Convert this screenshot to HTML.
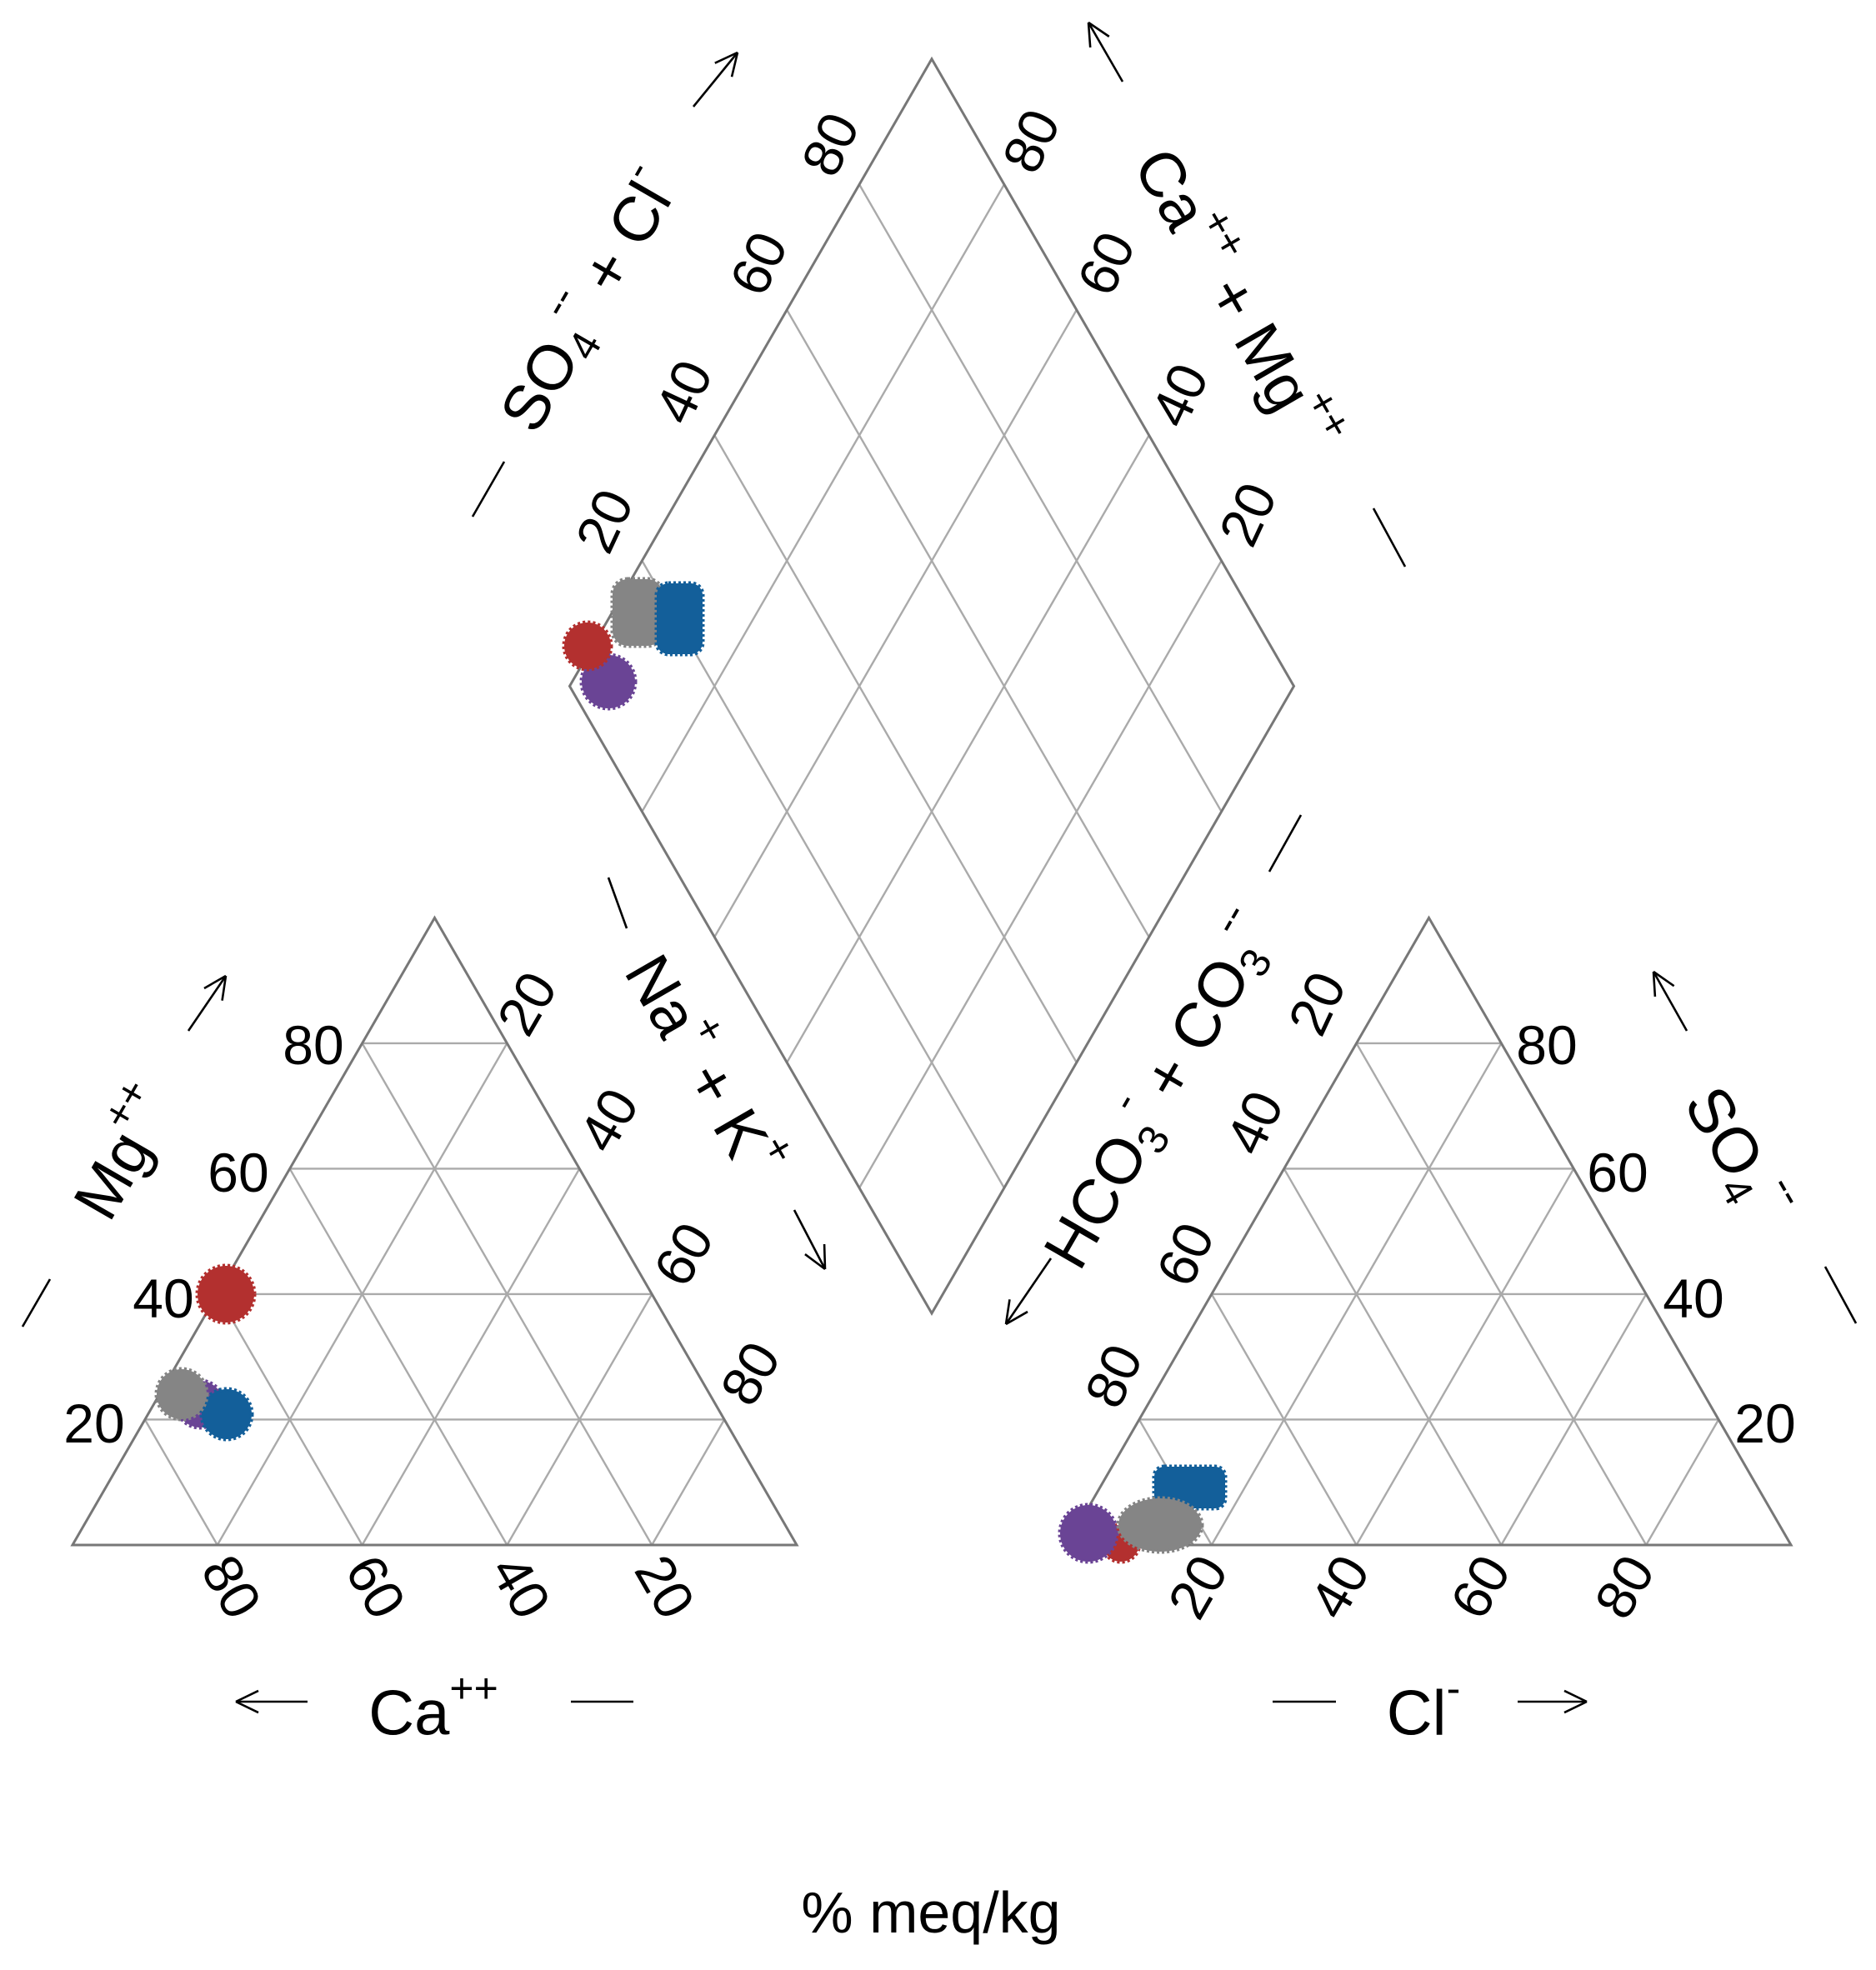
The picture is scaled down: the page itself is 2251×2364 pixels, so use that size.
<!DOCTYPE html>
<html><head><meta charset="utf-8"><style>
html,body{margin:0;padding:0;background:#fff}
svg{display:block}
text{font-family:"Liberation Sans",sans-serif;fill:#000}
</style></head><body>
<svg id="s" width="2251" height="2364" viewBox="0 0 2251 2364" xmlns="http://www.w3.org/2000/svg">
<g id="grid" stroke="#aaaaaa" stroke-width="2.4" fill="none"></g>
<g fill="none" stroke="#777" stroke-width="3">
<polygon points="87,1854 956,1854 521.5,1101.4"/>
<polygon points="1280,1854 2149,1854 1714.5,1101.4"/>
<polygon points="1118,1576 683.5,823.4 1118,70.8 1552.5,823.4"/>
</g>
<g stroke-width="5" stroke-dasharray="3 3">
<circle cx="730" cy="818" r="32" fill="#6a4495" stroke="#6a4495"/>
<circle cx="705" cy="775" r="28" fill="#b3302f" stroke="#b3302f"/>
<rect x="735" y="695" width="60" height="80" rx="18" fill="#858585" stroke="#858585"/>
<rect x="788" y="700" width="55" height="85" rx="14" fill="#135f9a" stroke="#135f9a"/>
<circle cx="271" cy="1553" r="34" fill="#b3302f" stroke="#b3302f"/>
<circle cx="240" cy="1685" r="28" fill="#6a4495" stroke="#6a4495"/>
<circle cx="272" cy="1697" r="30" fill="#135f9a" stroke="#135f9a"/>
<circle cx="218" cy="1673" r="30" fill="#858585" stroke="#858585"/>
<rect x="1385" y="1760" width="85" height="50" rx="12" fill="#135f9a" stroke="#135f9a"/>
<circle cx="1345" cy="1852" r="22" fill="#b3302f" stroke="#b3302f"/>
<circle cx="1306" cy="1840" r="34" fill="#6a4495" stroke="#6a4495"/>
<ellipse cx="1392" cy="1830" rx="50" ry="32" fill="#858585" stroke="#858585"/>
</g>
<g stroke="#000" stroke-width="2.6" fill="none">
<line x1="226" y1="1237" x2="271" y2="1171"/>
<line x1="832" y1="128" x2="885" y2="63"/>
<line x1="1347" y1="98" x2="1306" y2="27"/>
<line x1="953" y1="1452" x2="990" y2="1523"/>
<line x1="1261" y1="1510" x2="1207" y2="1589"/>
<line x1="2024" y1="1237" x2="1984" y2="1166"/>
<line x1="369" y1="2042" x2="283" y2="2042"/>
<line x1="1821" y1="2042" x2="1904" y2="2042"/>
<line x1="685" y1="2042" x2="760" y2="2042"/>
<line x1="1527" y1="2042" x2="1603" y2="2042"/>
<line x1="27" y1="1592" x2="60" y2="1535"/>
<line x1="730" y1="1053" x2="752" y2="1114"/>
<line x1="567" y1="620" x2="605" y2="554"/>
<line x1="1648" y1="610" x2="1686" y2="680"/>
<line x1="1523" y1="1046" x2="1561" y2="978"/>
<line x1="2190" y1="1520" x2="2227" y2="1588"/>
<g id="heads"></g>
</g>
<g font-size="66" text-anchor="middle" dominant-baseline="central">
<text x="376" y="1254">80</text><text x="286" y="1407">60</text><text x="196" y="1558">40</text><text x="113" y="1708">20</text>
<text x="1856" y="1254">80</text><text x="1941" y="1407">60</text><text x="2032" y="1558">40</text><text x="2118" y="1708">20</text>
</g>
<g font-size="66" text-anchor="middle" dominant-baseline="central">
<text transform="translate(996,173) rotate(-65)">80</text>
<text transform="translate(910,316) rotate(-65)">60</text>
<text transform="translate(820,470) rotate(-65)">40</text>
<text transform="translate(725,625) rotate(-65)">20</text>
<text transform="translate(1237,169) rotate(-65)">80</text>
<text transform="translate(1327,316) rotate(-65)">60</text>
<text transform="translate(1415,474) rotate(-65)">40</text>
<text transform="translate(1497,617) rotate(-65)">20</text>
<text transform="translate(632,1204) rotate(-60)">20</text>
<text transform="translate(730,1344) rotate(-60)">40</text>
<text transform="translate(820,1505) rotate(-60)">60</text>
<text transform="translate(900,1648) rotate(-60)">80</text>
<text transform="translate(278,1904) rotate(60)">80</text>
<text transform="translate(451,1904) rotate(60)">60</text>
<text transform="translate(625,1904) rotate(60)">40</text>
<text transform="translate(798,1904) rotate(60)">20</text>
<text transform="translate(1580,1204) rotate(-65)">20</text>
<text transform="translate(1505,1347) rotate(-65)">40</text>
<text transform="translate(1422,1505) rotate(-65)">60</text>
<text transform="translate(1336,1651) rotate(-65)">80</text>
<text transform="translate(1437,1904) rotate(-60)">20</text>
<text transform="translate(1607,1904) rotate(-60)">40</text>
<text transform="translate(1776,1904) rotate(-60)">60</text>
<text transform="translate(1949,1904) rotate(-60)">80</text>
</g>
<g font-size="76" text-anchor="middle" dominant-baseline="central">
<text x="520" y="2056">Ca<tspan font-size="50" dy="-30">++</tspan></text>
<text x="1708" y="2056">Cl<tspan font-size="50" dy="-30">-</tspan></text>
<text x="1117" y="2295" font-size="70">% meq/kg</text>
<text transform="translate(150,1385) rotate(-60)">Mg<tspan font-size="50" dy="-30">++</tspan></text>
<text transform="translate(843,1280) rotate(60)">Na<tspan font-size="50" dy="-30">+</tspan><tspan dy="30"> + K</tspan><tspan font-size="50" dy="-30">+</tspan></text>
<text transform="translate(707,361) rotate(-60)">SO<tspan font-size="50" dy="22">4</tspan><tspan font-size="50" dy="-54">--</tspan><tspan dy="32"> + Cl</tspan><tspan font-size="50" dy="-30">-</tspan></text>
<text transform="translate(1482,361) rotate(60)">Ca<tspan font-size="50" dy="-30">++</tspan><tspan dy="30"> + Mg</tspan><tspan font-size="50" dy="-30">++</tspan></text>
<text transform="translate(1392,1309) rotate(-60)">HCO<tspan font-size="50" dy="22">3</tspan><tspan font-size="50" dy="-54">-</tspan><tspan dy="32"> + CO</tspan><tspan font-size="50" dy="22">3</tspan><tspan font-size="50" dy="-54">--</tspan></text>
<text transform="translate(2084,1385) rotate(60)">SO<tspan font-size="50" dy="22">4</tspan><tspan font-size="50" dy="-54">--</tspan></text>
</g>
</svg>
<script>
(function(){
var NS="http://www.w3.org/2000/svg",g=document.getElementById("grid");
function L(a,b,c,d,p){var e=document.createElementNS(NS,"line");e.setAttribute("x1",a);e.setAttribute("y1",b);e.setAttribute("x2",c);e.setAttribute("y2",d);(p||g).appendChild(e);}
var Ln=869,h=Ln*0.8660254;
function tri(x0,yb){var x1=x0+Ln;for(var i=1;i<5;i++){var k=i/5,s=k*Ln;
L(x0+s/2,yb-k*h,x1-s/2,yb-k*h);
L(x0+s,yb,x0+s+(Ln-s)/2,yb-(Ln-s)*0.8660254);
L(x1-s,yb,x1-s-(Ln-s)/2,yb-(Ln-s)*0.8660254);}}
tri(87,1854);tri(1280,1854);
var D=[1118,1576],ux=-0.5*Ln,uy=-h,vx=0.5*Ln,vy=-h;
for(var i=1;i<5;i++){var k=i/5;
L(D[0]+k*ux,D[1]+k*uy,D[0]+k*ux+vx,D[1]+k*uy+vy);
L(D[0]+k*vx,D[1]+k*vy,D[0]+k*vx+ux,D[1]+k*vy+uy);}
var hs=document.getElementById("heads");
var A=[[226,1237,271,1171],[832,128,885,63],[1347,98,1306,27],[953,1452,990,1523],[1261,1510,1207,1589],[2024,1237,1984,1166],[369,2042,283,2042],[1821,2042,1904,2042]];
A.forEach(function(a){var dx=a[2]-a[0],dy=a[3]-a[1],l=Math.hypot(dx,dy);dx/=l;dy/=l;var s=30,an=0.45;
for(var sg=-1;sg<=1;sg+=2){var c=Math.cos(an*sg),sn=Math.sin(an*sg);var rx=-(dx*c-dy*sn),ry=-(dx*sn+dy*c);L(a[2],a[3],a[2]+rx*s,a[3]+ry*s,hs);}});
})();
</script>
</body></html>
